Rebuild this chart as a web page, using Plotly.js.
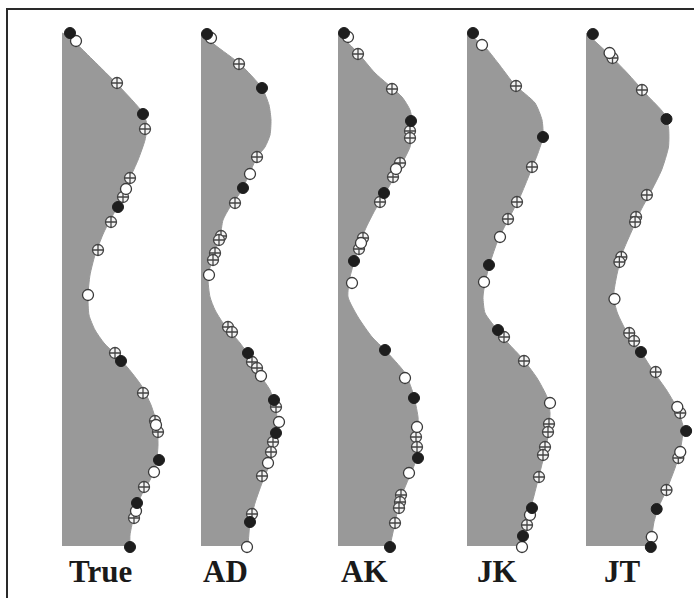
<!DOCTYPE html>
<html>
<head>
<meta charset="utf-8">
<script src="https://cdn.plot.ly/plotly-3.0.1.min.js"></script>
<style>html,body{margin:0;padding:0;background:#fff;}#chart{width:694px;height:598px;}</style>
</head>
<body>
<div id="chart"></div>
<script>
// Panel names
const panelNames = ["True", "AD", "AK", "JK", "JT"];

// Profile outlines: depth (down) and width (from left edge) for each panel
const trueDepth = [33, 36, 60, 85, 113, 125, 140, 160, 178, 197, 213, 232, 255, 275, 295, 315, 330, 343, 355, 368, 385, 405, 425, 445, 465, 480, 492, 505, 520, 535, 546];
const trueWidth = [0, 6, 31, 56, 81, 85, 83, 76, 68, 60, 52, 42, 33, 28, 26, 27, 33, 42, 54, 66, 79, 89, 95, 96, 94, 88, 81, 75, 71, 68, 68];

const adDepth = [33, 45, 64, 88, 105, 120, 135, 147, 157, 177, 193, 207, 220, 237, 257, 277, 297, 310, 323, 343, 360, 375, 390, 405, 417, 430, 440, 463, 483, 503, 523, 546];
const adWidth = [0, 14, 39, 61, 68, 70, 69, 64, 56, 47, 39, 29, 22, 19, 12, 7, 9, 14, 22, 39, 51, 59, 69, 74, 76, 75, 74, 69, 61, 54, 49, 47];

const akDepth = [33, 53, 73, 97, 110, 127, 147, 167, 190, 210, 230, 253, 277, 297, 317, 337, 350, 373, 393, 417, 443, 463, 480, 500, 523, 546];
const akWidth = [0, 20, 37, 64, 72, 75, 72, 62, 49, 37, 27, 19, 12, 10, 20, 34, 47, 67, 75, 80, 80, 77, 70, 62, 57, 52];

const jkDepth = [33, 47, 63, 85, 103, 120, 137, 153, 173, 197, 220, 240, 263, 283, 297, 313, 327, 343, 358, 378, 397, 413, 443, 460, 480, 503, 523, 546];
const jkWidth = [0, 18, 31, 48, 68, 75, 76, 71, 63, 53, 41, 31, 23, 18, 16, 18, 28, 41, 55, 70, 80, 83, 80, 76, 71, 65, 58, 53];

const jtDepth = [33, 53, 73, 95, 113, 127, 147, 170, 190, 210, 230, 253, 277, 297, 313, 333, 352, 372, 390, 407, 427, 450, 467, 490, 507, 523, 546];
const jtWidth = [0, 22, 42, 62, 79, 84, 84, 77, 67, 56, 47, 37, 31, 28, 32, 42, 56, 69, 82, 92, 99, 96, 91, 82, 74, 69, 66];

// Marked points: black (filled), white (open), crossed
const trueBlackX = [8, 81, 56, 59, 97, 75, 68];
const trueBlackY = [33, 114, 207, 361, 460, 503, 547];
const trueWhiteX = [14, 64, 26, 94, 92, 74];
const trueWhiteY = [41, 189, 295, 425, 472, 511];
const trueCrossX = [55, 83, 68, 61, 49, 36, 53, 81, 93, 96, 82, 72];
const trueCrossY = [83, 129, 178, 197, 222, 250, 353, 393, 421, 432, 487, 518];

const adBlackX = [6, 61, 42, 47, 73, 75, 49];
const adBlackY = [34, 88, 188, 353, 400, 433, 522];
const adWhiteX = [10, 49, 8, 60, 78, 67, 46];
const adWhiteY = [38, 174, 275, 376, 422, 463, 547];
const adCrossX = [38, 56, 34, 20, 18, 14, 12, 27, 31, 51, 56, 75, 72, 70, 61, 51];
const adCrossY = [64, 157, 203, 236, 240, 253, 260, 327, 332, 362, 368, 407, 442, 452, 476, 514];

const akBlackX = [6, 73, 46, 16, 47, 76, 80, 52];
const akBlackY = [33, 121, 193, 261, 350, 398, 458, 547];
const akWhiteX = [10, 58, 23, 14, 67, 79, 71];
const akWhiteY = [37, 169, 243, 283, 378, 427, 473];
const akCrossX = [20, 54, 72, 72, 62, 55, 42, 25, 21, 78, 79, 63, 62, 61, 57];
const akCrossY = [54, 89, 131, 138, 163, 177, 202, 238, 249, 437, 447, 495, 502, 508, 523];

const jkBlackX = [6, 76, 22, 31, 65, 56];
const jkBlackY = [33, 137, 265, 330, 508, 536];
const jkWhiteX = [15, 33, 17, 83, 63, 55];
const jkWhiteY = [45, 237, 282, 403, 515, 547];
const jkCrossX = [49, 65, 50, 41, 37, 57, 82, 81, 78, 76, 72, 60];
const jkCrossY = [86, 167, 202, 219, 337, 361, 424, 432, 447, 455, 477, 525];

const jtBlackX = [7, 82, 56, 102, 72, 66];
const jtBlackY = [34, 119, 352, 431, 509, 547];
const jtWhiteX = [24, 29, 93, 96, 67];
const jtWhiteY = [53, 299, 407, 452, 537];
const jtCrossX = [27, 57, 62, 51, 50, 36, 34, 44, 49, 71, 96, 94, 82];
const jtCrossY = [58, 90, 195, 217, 222, 257, 262, 333, 341, 372, 413, 458, 490];

const panels = [
  {depth: trueDepth, width: trueWidth, bx: trueBlackX, by: trueBlackY, wx: trueWhiteX, wy: trueWhiteY, cx: trueCrossX, cy: trueCrossY},
  {depth: adDepth, width: adWidth, bx: adBlackX, by: adBlackY, wx: adWhiteX, wy: adWhiteY, cx: adCrossX, cy: adCrossY},
  {depth: akDepth, width: akWidth, bx: akBlackX, by: akBlackY, wx: akWhiteX, wy: akWhiteY, cx: akCrossX, cy: akCrossY},
  {depth: jkDepth, width: jkWidth, bx: jkBlackX, by: jkBlackY, wx: jkWhiteX, wy: jkWhiteY, cx: jkCrossX, cy: jkCrossY},
  {depth: jtDepth, width: jtWidth, bx: jtBlackX, by: jtBlackY, wx: jtWhiteX, wy: jtWhiteY, cx: jtCrossX, cy: jtCrossY}
];

// layout constants (pixels)
const W = 694, H = 598;
const panelLeft = [62, 201, 338, 467, 586];
const panelSpan = 110;
const labelShift = [4, 1, 0, 3, 4];

const traces = [];
const layout = {
  width: W, height: H,
  margin: {l: 0, r: 0, t: 0, b: 0},
  paper_bgcolor: '#ffffff',
  plot_bgcolor: 'rgba(0,0,0,0)',
  showlegend: false,
  yaxis: {range: [H, 0], domain: [0, 1], visible: false, fixedrange: true},
  annotations: [],
  shapes: [{
    type: 'rect', xref: 'paper', yref: 'paper',
    x0: 7 / W, x1: 1.02, y0: -0.02, y1: 1 - 9 / H,
    line: {color: '#2a2a2a', width: 2}, fillcolor: 'rgba(0,0,0,0)', layer: 'above'
  }]
};

const markerSize = 11;
panels.forEach((p, i) => {
  const ax = i === 0 ? 'x' : 'x' + (i + 1);
  const axKey = i === 0 ? 'xaxis' : 'xaxis' + (i + 1);
  layout[axKey] = {
    domain: [panelLeft[i] / W, (panelLeft[i] + panelSpan) / W],
    range: [0, panelSpan], visible: false, anchor: 'y', fixedrange: true
  };
  traces.push({
    x: p.width, y: p.depth, xaxis: ax, yaxis: 'y',
    type: 'scatter', mode: 'lines', fill: 'tozerox',
    fillcolor: '#999999', line: {color: '#999999', width: 1, shape: 'spline', smoothing: 0.6},
    hoverinfo: 'skip'
  });
  traces.push({
    x: p.cx, y: p.cy, xaxis: ax, yaxis: 'y', type: 'scatter', mode: 'markers',
    marker: {symbol: 'circle-cross', size: markerSize, color: '#f2f2f2', line: {color: '#444444', width: 1.3}}
  });
  traces.push({
    x: p.wx, y: p.wy, xaxis: ax, yaxis: 'y', type: 'scatter', mode: 'markers',
    marker: {symbol: 'circle', size: markerSize, color: '#ffffff', line: {color: '#3a3a3a', width: 1.3}}
  });
  traces.push({
    x: p.bx, y: p.by, xaxis: ax, yaxis: 'y', type: 'scatter', mode: 'markers',
    marker: {symbol: 'circle', size: markerSize, color: '#1e1e1e', line: {color: '#1e1e1e', width: 1}}
  });
  const bottomWidth = p.width[p.width.length - 1];
  layout.annotations.push({
    x: bottomWidth / 2 + labelShift[i], y: 571, xref: ax, yref: 'y',
    text: '<b>' + panelNames[i] + '</b>', showarrow: false,
    xanchor: 'center', yanchor: 'middle',
    font: {family: 'Liberation Serif, Times New Roman, serif', size: 31, color: '#1a1a1a'}
  });
});

Plotly.newPlot('chart', traces, layout, {staticPlot: true, displayModeBar: false});
</script>
</body>
</html>
